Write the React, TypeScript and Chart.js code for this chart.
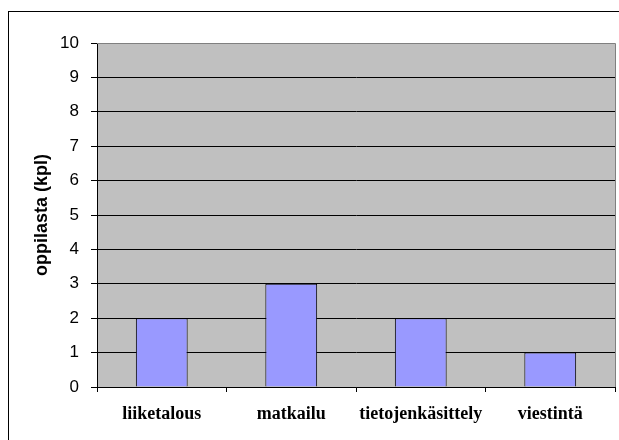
import React, { useEffect, useRef } from "react";
import { Chart, registerables } from "chart.js";

Chart.register(...registerables);

const categories = ["liiketalous", "matkailu", "tietojenkäsittely", "viestintä"];
const values = [2, 3, 2, 1];
const yTitle = "oppilasta (kpl)";
const yMin = 0;
const yMax = 10;

const framePlugin = {
  id: "framePlugin",
  beforeDraw(chart: any) {
    const { ctx, chartArea } = chart;
    ctx.save();
    ctx.fillStyle = "#ffffff";
    ctx.fillRect(0, 0, chart.width, chart.height);
    ctx.strokeStyle = "#000000";
    ctx.lineWidth = 1;
    ctx.strokeRect(8.5, 11.5, 1000, 1000);
    ctx.fillStyle = "#C0C0C0";
    ctx.fillRect(chartArea.left, chartArea.top, chartArea.right - chartArea.left, chartArea.bottom - chartArea.top);
    ctx.restore();
  },
  afterDatasetsDraw(chart: any) {
    const { ctx, chartArea } = chart;
    ctx.save();
    ctx.strokeStyle = "#808080";
    ctx.lineWidth = 1;
    ctx.beginPath();
    ctx.moveTo(chartArea.left, chartArea.top + 0.5);
    ctx.lineTo(chartArea.right + 0.5, chartArea.top + 0.5);
    ctx.lineTo(chartArea.right + 0.5, chartArea.bottom);
    ctx.stroke();
    ctx.restore();
  },
};

export default function App() {
  const ref = useRef<HTMLCanvasElement | null>(null);
  useEffect(() => {
    if (!ref.current) return;
    const chart = new Chart(ref.current, {
      type: "bar",
      data: {
        labels: categories,
        datasets: [
          {
            data: values,
            backgroundColor: "#9999FF",
            borderColor: "#000000",
            borderWidth: 1,
            barPercentage: 0.8,
            categoryPercentage: 0.5,
          },
        ],
      },
      plugins: [framePlugin],
      options: {
        responsive: false,
        animation: false,
        devicePixelRatio: 1,
        layout: { padding: { left: 27, top: 43, right: 4, bottom: 0 } },
        plugins: { legend: { display: false }, tooltip: { enabled: false } },
        scales: {
          x: {
            grid: {
              display: true,
              drawOnChartArea: false,
              offset: true,
              tickLength: 5,
              color: "#000000",
            },
            border: { color: "#000000" },
            ticks: {
              color: "#000000",
              padding: 12,
              font: { family: "'Liberation Serif', 'Times New Roman', serif", size: 18, weight: "bold" },
            },
            afterFit(scale: any) {
              scale.height = 53;
            },
          },
          y: {
            min: yMin,
            max: yMax,
            ticks: {
              stepSize: 1,
              color: "#000000",
              padding: 12,
              font: { family: "'Liberation Sans', Arial, sans-serif", size: 17 },
            },
            grid: {
              color: (c: any) => (c.tick && c.tick.value === yMax ? "#808080" : "#000000"),
              tickColor: "#000000",
              tickLength: 6,
            },
            border: { color: "#000000" },
            title: {
              display: true,
              text: yTitle,
              color: "#000000",
              font: { family: "'Liberation Sans', Arial, sans-serif", size: 18, weight: "bold" },
            },
            afterFit(scale: any) {
              scale.width = 70;
            },
          },
        },
      },
    });
    return () => chart.destroy();
  }, []);
  return (
    <div style={{ position: "absolute", left: 0, top: 0, width: 619, height: 440 }}>
      <canvas ref={ref} width={619} height={440} style={{ display: "block" }} />
    </div>
  );
}
